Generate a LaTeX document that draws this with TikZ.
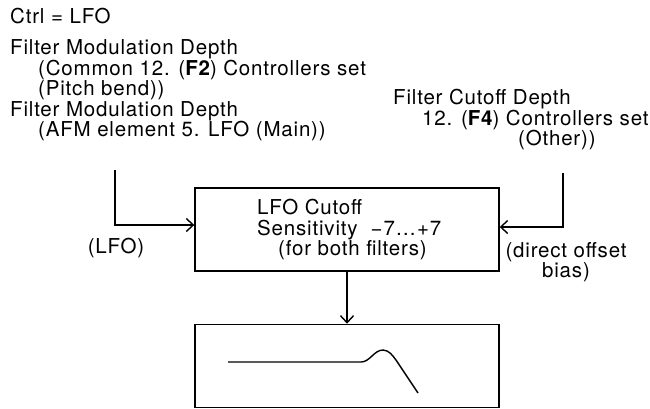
\documentclass[tikz,border=0pt]{standalone}
\usepackage{fontspec}
\setmainfont{TeX Gyre Heros}[LetterSpace=4]
\usetikzlibrary{arrows.meta,positioning}
\tikzset{
  fxbox/.style={draw=black, line width=1.4pt, rectangle, minimum width=304pt, minimum height=83pt, inner sep=0pt},
  txtblock/.style={align=left, inner sep=0pt, font=\fontsize{20.5}{20.5}\selectfont},
  feed/.style={-{Straight Barb[length=7pt,width=13pt]}, line width=1.4pt, draw=black}
}

\begin{document}
\begin{tikzpicture}[x=1pt, y=-1pt]
  \useasboundingbox (0,0) rectangle (650,408);
  % sources above the box
  \node[txtblock, anchor=north west] (lfosrc) at (10,7.5) {Ctrl = LFO\\[11pt]
    Filter Modulation Depth\\
    \hspace*{28pt}(Common 12. ({\bfseries F2}) Controllers set\\
    \hspace*{28pt}(Pitch bend))\\
    Filter Modulation Depth\\
    \hspace*{28pt}(AFM element 5. LFO (Main))};
  \node[txtblock, anchor=north west] (cutsrc) at (393,89) {Filter Cutoff Depth\\
    \hspace*{29pt}12. ({\bfseries F4}) Controllers set\\
    \hspace*{125pt}(Other))};
  % sensitivity stage and filter response
  \node[fxbox] (sens) at (347,229.5) {};
  \node[txtblock, anchor=north west] (senstxt) at (257,199) {LFO Cutoff\\
    Sensitivity\ \ −7…+7\\
    \hspace*{21pt}(for both filters)};
  \node[fxbox, below=52pt of sens] (resp) {};
  \draw[line width=1.4pt] (228,362) -- (361,362)
    .. controls (370,362) and (374,350) .. (383,350)
    .. controls (389,350) and (393,356) .. (396,360) -- (418,393);
  % connectors
  \coordinate (lfotop) at (115,170);
  \coordinate (biastop) at (563,173);
  \draw[feed] (lfotop) |- ([yshift=4.5pt]sens.west);
  \draw[feed] (biastop) |- ([yshift=2.5pt]sens.east);
  \draw[feed] (sens) -- (resp);
  \node[txtblock] (lfolbl) at (116,248) {(LFO)};
  \node[txtblock, align=center] (biaslbl) at (566,262) {(direct offset\\bias)};
\end{tikzpicture}
\end{document}
